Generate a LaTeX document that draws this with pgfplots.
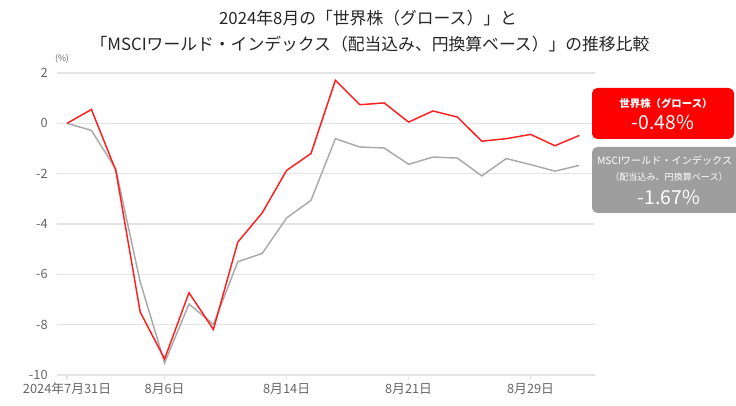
\documentclass[border=0pt]{standalone}
\usepackage{pgfplots}
\pgfplotsset{compat=1.18}
\usepackage{fontspec}
\setmainfont{Noto Sans CJK JP}
\definecolor{lnred}{HTML}{FF1E1E}
\definecolor{lngray}{HTML}{A9A9A9}
\definecolor{boxgray}{HTML}{9E9E9E}
\definecolor{txtgray}{HTML}{666666}
\definecolor{gridc}{HTML}{E4E4E4}

% index 0..21 = trading days from 2024-07-31
\pgfplotstableread{
k   growth  msci
0   0.00    0.00
1   0.55   -0.28
2  -1.87   -1.82
3  -7.50   -6.30
4  -9.36   -9.52
5  -6.73   -7.18
6  -8.19   -7.99
7  -4.72   -5.50
8  -3.56   -5.17
9  -1.87   -3.76
10 -1.20   -3.06
11  1.71   -0.61
12  0.74   -0.94
13  0.81   -0.98
14  0.05   -1.63
15  0.49   -1.34
16  0.25   -1.38
17 -0.71   -2.09
18 -0.61   -1.40
19 -0.44   -1.64
20 -0.89   -1.90
21 -0.48   -1.67
}\datatable

\begin{document}
\begin{tikzpicture}[x=0.75pt,y=0.75pt]
\clip (0,0) rectangle (736,406);
\begin{axis}[
    at={(42.75pt,23.25pt)}, anchor=south west,
    scale only axis,
    width=403.5pt, height=226.5pt,
    xmin=-0.41, xmax=21.64,
    ymin=-10, ymax=2,
    ytick={-10,-8,...,2},
    xtick={0,4,9,14,19},
    xticklabels={2024年7月31日,8月6日,8月14日,8月21日,8月29日},
    ymajorgrids,
    grid style={gridc, line width=0.8pt},
    axis line style={draw=none},
    xtick pos=bottom, tick align=outside,
    x tick style={gridc, line width=0.8pt},
    major tick length=3.5pt,
    y tick style={draw=none},
    ticklabel style={font=\fontsize{9.6}{11}\selectfont, text=txtgray},
    xticklabel style={yshift=1pt},
    /pgf/number format/assume math mode=true,
    clip=false,
]
\addplot[lngray, line width=1.1pt] table[x=k, y=msci] {\datatable};
\addplot[lnred, line width=1.1pt] table[x=k, y=growth] {\datatable};
\end{axis}

% title
\node[font=\fontsize{12.6}{14}\selectfont, text=black!85] at (368,388) {2024年8月の「世界株（グロース）」と};
\node[font=\fontsize{12.6}{14}\selectfont, text=black!85] at (370,362) {「MSCIワールド・インデックス（配当込み、円換算ベース）」の推移比較};
\node[font=\fontsize{6.5}{8}\selectfont, text=txtgray] at (62,347) {(\%)};

% end-value labels
\fill[red, rounded corners=4pt] (592,267) rectangle (734,318);
\node[font=\bfseries\fontsize{7.8}{9}\selectfont, text=white] at (666,303) {世界株（グロース）};
\node[font=\fontsize{14.5}{16}\selectfont, text=white] at (663,284) {-0.48\%};

\fill[boxgray, rounded corners=4pt] (592,193) rectangle (750,259);
\node[font=\fontsize{7.6}{9}\selectfont, text=white, anchor=west, inner sep=0pt] at (597,245) {MSCIワールド・インデックス};
\node[font=\fontsize{6.8}{8}\selectfont, text=white] at (669,229) {（配当込み、円換算ベース）};
\node[font=\fontsize{14.5}{16}\selectfont, text=white] at (669,209) {-1.67\%};
\end{tikzpicture}
\end{document}
